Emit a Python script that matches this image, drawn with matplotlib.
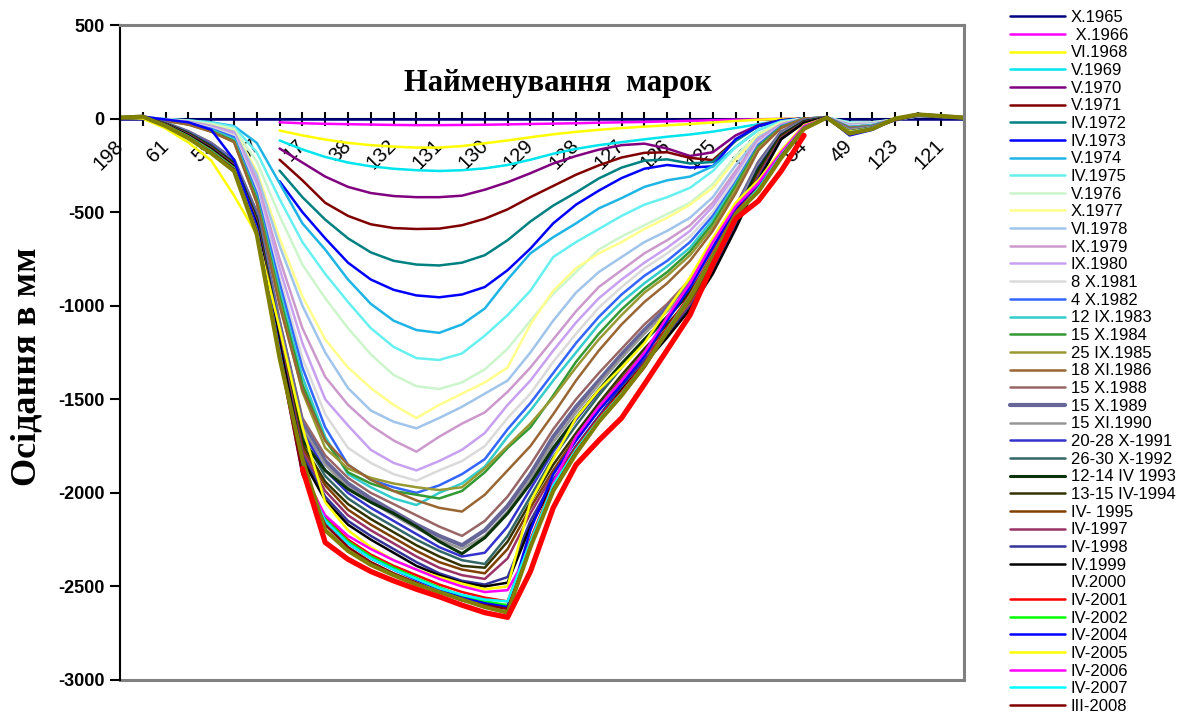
import matplotlib
matplotlib.use('Agg')
import matplotlib.pyplot as plt
import numpy as np

N = None

# category axis (mark names); only every second mark is labelled in the chart
tick_labels = ['198', '', '61', '', '59', '', '57', '', '17', '', '38', '', '132', '',
               '131', '', '130', '', '129', '', '128', '', '127', '', '126', '', '125', '',
               '124', '', '54', '', '49', '', '123', '', '121', '']

# subsidence values (mm) per mark, one list per survey
X1965 = [0, 0, 0, 0, 0, 0, 0, 0, 0, 0, 0, 0, 0, 0, 0, 0, 0, 0, 0, 0,
         0, 0, 0, 0, 0, 0, 0, 0, 0, 0, 0, 0, 0, 0, 0, 0, 0, 0]
X1966 = [N, N, N, N, N, N, N, -20, -25, -28, -30, -32, -34, -35, -35, -34, -33, -31, -29, -27,
         -25, -22, -20, -18, -15, -12, -9, -6, -4, -2, 0, N, N, N, N, N, N, N]
VI1968 = [N, N, N, N, N, N, N, -64, -90, -112, -130, -142, -150, -155, -155, -147, -132, -117, -100, -84,
          -71, -60, -51, -43, -36, -29, -21, -13, -6, -2, 0, N, N, N, N, N, N, N]
V1969 = [N, N, N, N, N, N, N, -117, -165, -205, -235, -255, -268, -276, -280, -276, -266, -248, -220, -188,
         -162, -142, -126, -111, -97, -85, -70, -50, -30, -10, 0, N, N, N, N, N, N, N]
V1970 = [N, N, N, N, N, N, N, -160, -235, -310, -365, -398, -414, -420, -420, -412, -380, -340, -292, -240,
         -200, -166, -142, -134, -160, -200, -180, -90, -35, -8, 0, N, N, N, N, N, N, N]
V1971 = [N, N, N, N, N, N, N, -220, -330, -450, -520, -565, -585, -590, -588, -570, -535, -485, -420, -360,
         -300, -250, -208, -183, -180, -210, -222, -115, -40, -10, 0, N, N, N, N, N, N, N]
IV1972 = [N, N, N, N, N, N, N, -278, -420, -540, -640, -715, -760, -780, -785, -770, -730, -650, -550, -465,
          -395, -320, -262, -225, -218, -240, -232, -120, -40, -10, 0, N, N, N, N, N, N, N]
IV1973 = [N, N, N, N, N, N, N, -335, -500, -640, -770, -860, -915, -945, -955, -940, -900, -810, -695, -560,
          -460, -385, -318, -268, -248, -262, -255, -110, -40, -10, 0, N, N, N, N, N, N, N]
V1974 = [5, 8, -3, -10, -20, -40, -130, -345, -560, -700, -860, -990, -1080, -1130, -1145, -1100,
         -1015, -860, -720, -634, -560, -480, -425, -365, -330, -310, -255, -153, -60, -15, 0, 5,
         -25, -20, -5, 12, 10, 5]
IV1975 = [5, 8, -3, -10, -22, -45, -180, -430, -660, -830, -980, -1120, -1220, -1280, -1290, -1255,
          -1160, -1050, -920, -740, -660, -590, -520, -460, -420, -370, -280, -153, -60, -15, 0, 5,
          -20, -25, -5, 12, 10, 5]
V1976 = [5, 8, -4, -12, -28, -55, -230, -520, -780, -960, -1120, -1260, -1370, -1430, -1445, -1410,
         -1340, -1230, -1080, -936, -820, -700, -630, -570, -510, -450, -350, -200, -80, -20, 0, 5,
         -25, -20, -5, 12, 10, 5]
X1977 = [5, 8, -5, -15, -35, -65, -280, -640, -950, -1180, -1330, -1440, -1530, -1600, -1530, -1470,
         -1410, -1330, -1100, -920, -800, -720, -660, -590, -530, -460, -370, -220, -90, -25, 0, 5,
         -30, -25, -5, 14, 10, 5]
VI1978 = [5, 8, -5, -15, -38, -70, -300, -680, -1000, -1250, -1440, -1560, -1620, -1655, -1600, -1540,
          -1470, -1400, -1250, -1080, -930, -820, -740, -660, -600, -530, -420, -250, -100, -30, 0, 5,
          -30, -25, -5, 14, 10, 5]
IX1979 = [5, 8, -6, -18, -40, -75, -330, -750, -1120, -1380, -1530, -1640, -1720, -1780, -1700, -1630,
          -1570, -1460, -1330, -1180, -1030, -900, -810, -720, -650, -570, -450, -280, -110, -30, 0, 5,
          -35, -30, -5, 14, 10, 5]
IX1980 = [5, 8, -6, -20, -45, -80, -350, -800, -1200, -1500, -1640, -1770, -1840, -1880, -1830, -1770,
          -1680, -1530, -1400, -1240, -1090, -960, -860, -770, -690, -600, -470, -300, -120, -35, 0, 5,
          -35, -30, -5, 15, 10, 5]
X1981 = [5, 8, -8, -22, -50, -90, -380, -850, -1280, -1580, -1760, -1840, -1900, -1935, -1880, -1830,
         -1750, -1600, -1470, -1300, -1150, -1010, -900, -800, -720, -630, -500, -320, -130, -40, 0, 5,
         -40, -30, -5, 15, 10, 5]
X1982 = [5, 8, -10, -25, -55, -100, -400, -880, -1330, -1650, -1850, -1930, -1970, -2000, -1960, -1900,
         -1820, -1660, -1520, -1360, -1200, -1060, -940, -840, -760, -660, -520, -340, -140, -40, 0, 5,
         -45, -35, -5, 16, 10, 5]
IX1983 = [5, 8, -10, -28, -60, -110, -420, -920, -1380, -1700, -1900, -1970, -2030, -2065, -2000, -1950,
          -1860, -1700, -1560, -1400, -1250, -1100, -980, -880, -790, -690, -540, -350, -150, -45, 0, 5,
          -45, -35, -5, 16, 10, 5]
X1984 = [5, 8, -12, -30, -65, -120, -430, -950, -1420, -1720, -1890, -1950, -1990, -2010, -2030, -1990,
         -1890, -1760, -1650, -1480, -1300, -1150, -1020, -910, -820, -710, -560, -360, -150, -45, 0, 5,
         -50, -40, -5, 16, 10, 5]
IX1985 = [5, 8, -12, -32, -70, -125, -450, -980, -1460, -1760, -1870, -1920, -1950, -1970, -1985, -1970,
          -1870, -1750, -1630, -1490, -1330, -1180, -1050, -930, -840, -730, -580, -380, -160, -50, 0, 5,
          -50, -40, -5, 16, 10, 5]
XI1986 = [5, 8, -12, -32, -70, -125, -450, -1000, -1450, -1720, -1850, -1930, -1990, -2040, -2080, -2100,
          -2010, -1880, -1750, -1580, -1400, -1240, -1100, -980, -880, -760, -600, -400, -170, -50, 0, 5,
          -50, -40, -5, 16, 10, 5]
X1988 = [5, 10, -25, -70, -130, -220, -500, -1080, -1600, -1800, -1920, -2000, -2060, -2120, -2180, -2230,
         -2150, -2020, -1850, -1660, -1500, -1360, -1230, -1100, -990, -860, -690, -470, -230, -70, -10, 5,
         -55, -45, -5, 18, 12, 5]
X1989 = [5, 10, -25, -72, -135, -225, -510, -1100, -1630, -1830, -1950, -2030, -2100, -2170, -2230, -2280,
         -2200, -2070, -1900, -1700, -1540, -1400, -1260, -1130, -1010, -880, -700, -480, -240, -75, -10, 5,
         -60, -45, -5, 18, 12, 5]
XI1990 = [5, 10, -26, -74, -138, -228, -515, -1110, -1650, -1850, -1970, -2050, -2120, -2190, -2250, -2300,
          -2230, -2100, -1930, -1730, -1570, -1420, -1280, -1150, -1030, -900, -720, -490, -250, -80, -12, 5,
          -60, -45, -5, 18, 12, 5]
X1991 = [5, 10, -28, -76, -140, -232, -520, -1120, -1670, -1880, -2000, -2080, -2150, -2220, -2290, -2340,
         -2320, -2180, -1980, -1780, -1610, -1460, -1310, -1180, -1060, -920, -740, -510, -260, -85, -15, 5,
         -70, -50, -5, 20, 12, 5]
X1992 = [5, 10, -28, -78, -145, -236, -530, -1140, -1700, -1910, -2030, -2110, -2180, -2250, -2310, -2360,
         -2380, -2230, -2020, -1810, -1640, -1480, -1330, -1190, -1070, -930, -750, -520, -270, -90, -15, 5,
         -70, -50, -5, 20, 12, 5]
IV1993 = [5, 10, -28, -80, -150, -240, -540, -1150, -1720, -1880, -1980, -2050, -2110, -2180, -2260, -2325,
          -2240, -2110, -1950, -1760, -1600, -1450, -1310, -1180, -1060, -930, -750, -520, -270, -90, -15, 5,
          -70, -50, -5, 20, 12, 5]
IV1994 = [5, 10, -30, -82, -152, -244, -545, -1160, -1740, -1940, -2060, -2140, -2210, -2280, -2340, -2390,
          -2400, -2260, -2050, -1850, -1680, -1520, -1370, -1230, -1100, -960, -770, -540, -290, -95, -18, 5,
          -75, -55, -5, 20, 12, 5]
IV1995 = [5, 10, -30, -84, -155, -248, -550, -1170, -1760, -1960, -2090, -2170, -2240, -2310, -2370, -2410,
          -2430, -2300, -2080, -1880, -1700, -1540, -1390, -1250, -1120, -980, -790, -550, -300, -100, -20, 5,
          -75, -55, -5, 20, 12, 5]
IV1997 = [5, 10, -30, -86, -158, -250, -555, -1180, -1780, -1990, -2120, -2200, -2270, -2340, -2400, -2440,
          -2460, -2350, -2110, -1900, -1720, -1560, -1410, -1270, -1140, -1000, -810, -570, -310, -105, -20, 5,
          -80, -55, -5, 20, 12, 5]
IV1998 = [5, 10, -32, -88, -160, -254, -560, -1190, -1800, -2020, -2150, -2230, -2300, -2370, -2430, -2470,
          -2490, -2450, -2150, -1930, -1750, -1590, -1430, -1290, -1160, -1010, -820, -580, -320, -110, -22, 5,
          -85, -55, 0, 22, 14, 5]
IV1999 = [5, 10, -32, -90, -162, -256, -565, -1200, -1820, -2040, -2170, -2250, -2320, -2390, -2440, -2480,
          -2500, -2480, -2180, -1950, -1770, -1610, -1450, -1310, -1170, -1020, -830, -590, -330, -110, -22, 5,
          -85, -55, 0, 22, 14, 5]
IV2001 = [5, 10, -35, -95, -170, -262, -590, -1240, -1870, -2130, -2250, -2330, -2390, -2440, -2490, -2530,
          -2560, -2580, -2250, -1950, -1760, -1600, -1460, -1310, -1120, -940, -720, -500, -370, -190, -45, 5,
          -80, -55, 0, 22, 14, 5]
IV2002 = [5, 10, -35, -96, -172, -264, -595, -1250, -1880, -2140, -2260, -2340, -2400, -2455, -2505, -2550,
          -2580, -2600, -2270, -1960, -1770, -1610, -1470, -1320, -1130, -950, -730, -510, -375, -195, -48, 5,
          -80, -55, 0, 22, 14, 5]
IV2004 = [5, 10, -5, -20, -60, -220, -580, -1240, -1890, -2150, -2270, -2350, -2410, -2465, -2515, -2560,
          -2590, -2610, -2200, -1900, -1720, -1560, -1420, -1270, -1080, -900, -690, -480, -350, -180, -40, 8,
          -90, -60, 0, 25, 15, 5]
IV2005 = [5, 0, -53, -128, -224, -411, -620, -1120, -1650, -2050, -2200, -2290, -2360, -2410, -2450, -2485,
          -2515, -2500, -2050, -1820, -1600, -1450, -1330, -1200, -1020, -850, -640, -450, -330, -170, -35, 5,
          -70, -50, 0, 20, 12, 5]
IV2006 = [5, 10, -38, -100, -178, -270, -600, -1260, -1900, -2120, -2230, -2300, -2360, -2410, -2460, -2500,
          -2530, -2520, -2300, -1950, -1700, -1540, -1400, -1250, -1060, -880, -660, -470, -345, -180, -40, 5,
          -75, -50, 0, 20, 12, 5]
IV2007 = [5, 10, -36, -98, -175, -268, -598, -1255, -1890, -2150, -2270, -2350, -2410, -2460, -2510, -2545,
          -2570, -2580, -2260, -1960, -1770, -1610, -1470, -1320, -1130, -950, -730, -510, -375, -195, -48, 5,
          -75, -50, 0, 20, 12, 5]
III2008 = [5, 10, -38, -100, -178, -270, -602, -1265, -1900, -2170, -2290, -2370, -2430, -2480, -2530, -2575,
           -2600, -2620, -2290, -1980, -1780, -1620, -1480, -1330, -1140, -960, -740, -520, -385, -200, -50, 5,
           -80, -55, 0, 22, 14, 5]
# two further surveys whose legend entries fall below the picture edge
OLIVE_LAST = [5, 10, -40, -105, -185, -280, -620, -1280, -1820, -2200, -2310, -2385, -2440, -2490, -2530, -2570,
              -2610, -2640, -2290, -1990, -1790, -1620, -1480, -1320, -1140, -960, -740, -510, -390, -210, -55, 5,
              -80, -55, 0, 22, 14, 5]
RED_LAST = [N, N, N, N, N, N, N, N, -1870, -2265, -2355, -2420, -2470, -2515, -2555, -2600, -2640, -2665,
            -2420, -2080, -1850, -1720, -1600, -1420, -1236, -1050, -780, -535, -440, -280, -90,
            N, N, N, N, N, N, N]

series = [
    ('X.1965', X1965, '#000080', 1.8),
    (' X.1966', X1966, '#FF00FF', 1.8),
    ('VI.1968', VI1968, '#FFFF00', 1.8),
    ('V.1969', V1969, '#00E5EE', 1.8),
    ('V.1970', V1970, '#800080', 1.8),
    ('V.1971', V1971, '#800000', 1.8),
    ('IV.1972', IV1972, '#008080', 1.8),
    ('IV.1973', IV1973, '#0000FF', 1.8),
    ('V.1974', V1974, '#1EB4E6', 1.8),
    ('IV.1975', IV1975, '#66F0F0', 1.8),
    ('V.1976', V1976, '#CCF5CC', 1.8),
    ('X.1977', X1977, '#FFFF8C', 1.8),
    ('VI.1978', VI1978, '#A0C4EA', 1.8),
    ('IX.1979', IX1979, '#CC99CC', 1.8),
    ('IX.1980', IX1980, '#C8A0F0', 1.8),
    ('8 X.1981', X1981, '#DADADA', 1.8),
    ('4 X.1982', X1982, '#3366FF', 1.8),
    ('12 IX.1983', IX1983, '#33CCCC', 1.8),
    ('15 X.1984', X1984, '#339933', 1.8),
    ('25 IX.1985', IX1985, '#999933', 1.8),
    ('18 XI.1986', XI1986, '#996633', 1.8),
    ('15 X.1988', X1988, '#996666', 1.8),
    ('15 X.1989', X1989, '#666699', 3.0),
    ('15 XI.1990', XI1990, '#969696', 1.8),
    ('20-28 X-1991', X1991, '#3333CC', 1.8),
    ('26-30 X-1992', X1992, '#336666', 1.8),
    ('12-14 IV 1993', IV1993, '#0A330A', 2.2),
    ('13-15 IV-1994', IV1994, '#333300', 1.8),
    ('IV- 1995', IV1995, '#804000', 1.8),
    ('IV-1997', IV1997, '#993366', 1.8),
    ('IV-1998', IV1998, '#333399', 1.8),
    ('IV.1999', IV1999, '#000000', 1.8),
    ('IV.2000', None, 'none', 1.8),
    ('IV-2001', IV2001, '#FF0000', 1.8),
    ('IV-2002', IV2002, '#00FF00', 1.8),
    ('IV-2004', IV2004, '#0000FF', 1.8),
    ('IV-2005', IV2005, '#FFFF00', 1.8),
    ('IV-2006', IV2006, '#FF00FF', 1.8),
    ('IV-2007', IV2007, '#00FFFF', 1.8),
    ('III-2008', III2008, '#800000', 1.8),
    ('_olive', OLIVE_LAST, '#808000', 3.0),
    ('_red', RED_LAST, '#FF0000', 3.8),
]

plt.rcParams['font.family'] = ['Liberation Sans', 'DejaVu Sans']

W, H = 1191, 726
fig = plt.figure(figsize=(W / 100, H / 100), dpi=100)
ax = fig.add_axes([120 / W, 1 - 680 / H, (963.6 - 120) / W, (680 - 25) / H])

x = np.arange(len(tick_labels))
handles = []
for name, vals, col, lw in series:
    if vals is None:
        h, = ax.plot([], [], color=col, lw=lw, label=name)
    else:
        y = np.array([np.nan if v is None else v for v in vals], dtype=float)
        h, = ax.plot(x, y, color=col, lw=lw, label=name, solid_joinstyle='round', solid_capstyle='round')
    if not name.startswith('_'):
        handles.append(h)

ax.set_xlim(0, len(tick_labels) - 1)
ax.set_ylim(-3000, 500)

# spines / frame
for s in ['top', 'right']:
    ax.spines[s].set_color('#808080')
    ax.spines[s].set_linewidth(2.2)
ax.spines['left'].set_color('black')
ax.spines['left'].set_linewidth(1.5)
ax.spines['bottom'].set_position(('data', 0))
ax.spines['bottom'].set_color('black')
ax.spines['bottom'].set_linewidth(1.5)
ax.spines['bottom'].set_zorder(0.5)
ax.plot([0, 1], [0, 0], transform=ax.transAxes, color='#808080', lw=2.2, clip_on=False)

ax.set_xticks(x)
ax.set_xticklabels(tick_labels, rotation=45, ha='right', va='center', rotation_mode='anchor',
                   fontsize=14.5)
ax.tick_params(axis='x', direction='inout', length=10, width=1.5, pad=12.5, color='black')

ax.set_yticks(np.arange(-3000, 501, 500))
ax.set_yticklabels([str(v) for v in np.arange(-3000, 501, 500)], fontsize=13, fontweight='bold')
ax.tick_params(axis='y', direction='out', length=7, width=1.5, pad=4)

fig.text(558 / W, 1 - 83 / H, 'Найменування  марок', family='Liberation Serif', fontweight='bold',
         fontsize=22, ha='center', va='center')
fig.text(27 / W, 1 - 367 / H, 'Осідання в мм', family='Liberation Serif', fontweight='bold',
         fontsize=26, ha='center', va='center', rotation=90)

fig.legend(handles=handles, loc='upper left', bbox_to_anchor=(1010 / W, 1 - 10 / H),
           bbox_transform=fig.transFigure, frameon=False, fontsize=12, handlelength=3.3,
           handletextpad=0.35, labelspacing=0.16, borderpad=0, borderaxespad=0)

fig.savefig('out.png', dpi=100)
